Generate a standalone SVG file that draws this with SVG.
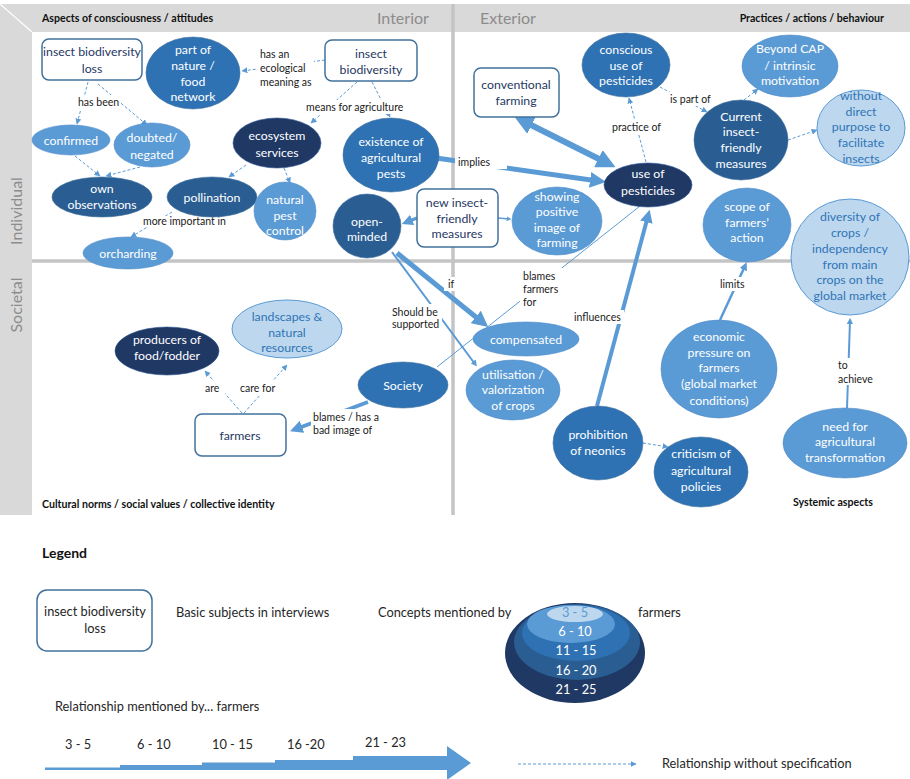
<svg xmlns="http://www.w3.org/2000/svg" width="910" height="779" viewBox="0 0 910 779">
<style>
.n13{font-family:Lato,"Liberation Sans",sans-serif;font-size:12.3px;text-anchor:middle}
.w{fill:#fff}.dk{fill:#1f3864}.lt{fill:#2e75b6}
.lb{font-family:Lato,"Liberation Sans",sans-serif;font-size:10.5px;fill:#1a1a1a}
.hd{font-family:Lato,"Liberation Sans",sans-serif;font-size:10.6px;font-weight:bold;fill:#111}
.qd{font-family:Lato,"Liberation Sans",sans-serif;font-size:16px;fill:#8c8c8c}
.lg{font-family:Lato,"Liberation Sans",sans-serif;font-size:12.8px;fill:#262626}
.c1{fill:#203864;stroke:#2f5597;stroke-width:0.6}
.c2{fill:#2a5e93;stroke:#41719c;stroke-width:0.6}
.c3{fill:#2e72b4;stroke:#41719c;stroke-width:0.6}
.c4{fill:#5b9bd5;stroke:#4f8cc9;stroke-width:0.6}
.c5{fill:#bdd7ee;stroke:#5b9bd5;stroke-width:1}
.bx{fill:#fff;stroke:#41719c;stroke-width:1.5}
.dl{stroke:#5b9bd5;stroke-width:1;stroke-dasharray:3 2;fill:none;marker-end:url(#ad)}
.sl{stroke:#5b9bd5;fill:none;marker-end:url(#as)}
.bg{fill:#fff}
</style>
<defs>
<marker id="ad" viewBox="0 0 10 10" refX="9" refY="5" markerWidth="6" markerHeight="6" markerUnits="userSpaceOnUse" orient="auto"><path d="M0,0 L10,5 L0,10 z" fill="#5b9bd5"/></marker>
<marker id="as" viewBox="0 0 10 10" refX="5" refY="5" markerWidth="3.2" markerHeight="3.2" orient="auto-start-reverse"><path d="M0,0 L10,5 L0,10 z" fill="#5b9bd5"/></marker>
<marker id="ab" viewBox="0 0 10 10" refX="5" refY="5" markerWidth="4.5" markerHeight="4.5" orient="auto"><path d="M0,0 L10,5 L0,10 z" fill="#5b9bd5"/></marker>
</defs>
<rect width="910" height="779" fill="#fff"/>
<g id="background">
<polygon points="0,4 910,4 910,32 32,32" fill="#d9d9d9"/>
<polygon points="0,4 32,32 32,515 0,515" fill="#d9d9d9"/>
<line x1="0" y1="4" x2="32" y2="32" stroke="#fff" stroke-width="1.2"/>
<line x1="453" y1="4" x2="453" y2="515" stroke="#c4c4c4" stroke-width="3.5"/>
<line x1="32" y1="261" x2="910" y2="261" stroke="#c4c4c4" stroke-width="3.5"/>
<text class="hd" x="42" y="22">Aspects of consciousness / attitudes</text>
<text class="qd" x="377" y="24">Interior</text>
<text class="qd" x="480" y="24">Exterior</text>
<text class="hd" x="884" y="22" text-anchor="end">Practices / actions / behaviour</text>
<text class="qd" transform="translate(22,211) rotate(-90)" text-anchor="middle">Individual</text>
<text class="qd" transform="translate(22,305) rotate(-90)" text-anchor="middle">Societal</text>
<text class="hd" x="42" y="508">Cultural norms / social values / collective identity</text>
<text class="hd" x="793" y="506">Systemic aspects</text>
</g>
<g id="connectors">
<line class="dl" x1="325" y1="60" x2="242" y2="71"/>
<line class="dl" x1="88" y1="82" x2="77" y2="124"/>
<line class="dl" x1="98" y1="84" x2="147" y2="125"/>
<line class="dl" x1="75" y1="156" x2="100" y2="176"/>
<line class="dl" x1="140" y1="167" x2="106" y2="176"/>
<line class="dl" x1="357" y1="82" x2="311" y2="123"/>
<line class="dl" x1="372" y1="82" x2="390" y2="117"/>
<line class="dl" x1="246" y1="165" x2="229" y2="177"/>
<line class="dl" x1="284" y1="168" x2="290" y2="183"/>
<line class="dl" x1="172" y1="212" x2="131" y2="237"/>
<line class="dl" x1="646" y1="162" x2="629" y2="98"/>
<line class="dl" x1="660" y1="87" x2="707" y2="112"/>
<line class="dl" x1="744" y1="100" x2="758" y2="89"/>
<line class="dl" x1="788" y1="140" x2="817" y2="130"/>
<line class="dl" x1="643" y1="443" x2="668" y2="447"/>
<line class="dl" x1="242" y1="413" x2="205" y2="371"/>
<line class="dl" x1="244" y1="413" x2="287" y2="365"/>
<line class="sl" x1="436" y1="158" x2="598" y2="181" stroke-width="5"/>
<line class="sl" x1="523" y1="121" x2="607" y2="163" stroke-width="6" marker-start="url(#as)"/>
<line class="sl" x1="417" y1="218" x2="407" y2="222" stroke-width="3.5"/>
<line class="sl" x1="498" y1="218" x2="509" y2="219" stroke-width="1.5" marker-end="url(#ab)"/>
<line class="sl" x1="397" y1="253" x2="482" y2="322" stroke-width="5"/>
<line class="sl" x1="392" y1="252" x2="475" y2="364" stroke-width="2" marker-end="url(#ab)"/>
<line x1="437" y1="367" x2="640" y2="206" stroke="#5b9bd5" stroke-width="1"/>
<line class="sl" x1="597" y1="406" x2="648" y2="216" stroke-width="4"/>
<line class="sl" x1="720" y1="320" x2="745" y2="266" stroke-width="2.5"/>
<line class="sl" x1="847" y1="408" x2="850" y2="321" stroke-width="2"/>
<line class="sl" x1="368" y1="402" x2="296" y2="429" stroke-width="4"/>
<rect class="bg" x="257" y="47" width="57" height="41"/>
<text class="lb" x="260" y="58">has an</text>
<text class="lb" x="260" y="72">ecological</text>
<text class="lb" x="260" y="86">meaning as</text>
<rect class="bg" x="76" y="95" width="44" height="14"/>
<text class="lb" x="78" y="106">has been</text>
<rect class="bg" x="304" y="100" width="103" height="14"/>
<text class="lb" x="306" y="111">means for agriculture</text>
<rect class="bg" x="143" y="216" width="89" height="11"/>
<text class="lb" x="143" y="225">more important in</text>
<rect class="bg" x="455" y="155" width="52" height="14"/>
<text class="lb" x="458" y="166">implies</text>
<rect class="bg" x="610" y="120" width="54" height="14"/>
<text class="lb" x="612" y="131">practice of</text>
<rect class="bg" x="668" y="92" width="46" height="14"/>
<text class="lb" x="670" y="103">is part of</text>
<rect class="bg" x="444" y="277" width="14" height="14"/>
<text class="lb" x="448" y="288">if</text>
<rect class="bg" x="390" y="304" width="52" height="27"/>
<text class="lb" x="392" y="316">Should be</text>
<text class="lb" x="392" y="328">supported</text>
<rect class="bg" x="520" y="268" width="42" height="40"/>
<text class="lb" x="523" y="280">blames</text>
<text class="lb" x="523" y="293">farmers</text>
<text class="lb" x="523" y="306">for</text>
<rect class="bg" x="572" y="310" width="52" height="14"/>
<text class="lb" x="574" y="321">influences</text>
<rect class="bg" x="718" y="277" width="30" height="14"/>
<text class="lb" x="720" y="288">limits</text>
<rect class="bg" x="836" y="358" width="40" height="27"/>
<text class="lb" x="838" y="369">to</text>
<text class="lb" x="838" y="383">achieve</text>
<rect class="bg" x="203" y="381" width="22" height="14"/>
<text class="lb" x="205" y="392">are</text>
<rect class="bg" x="238" y="381" width="40" height="14"/>
<text class="lb" x="240" y="392">care for</text>
<rect class="bg" x="311" y="409" width="72" height="28"/>
<text class="lb" x="313" y="421">blames / has a</text>
<text class="lb" x="313" y="434">bad image of</text>
</g>
<g id="n-insect-biodiversity-loss"><rect class="bx" x="42" y="39" width="100" height="41" rx="7"/><text class="n13 dk" x="92" y="56">insect biodiversity</text><text class="n13 dk" x="92" y="73">loss</text></g>
<g id="n-part-of-nature"><ellipse class="c3" cx="193" cy="73" rx="47" ry="36"/><text class="n13 w" x="193" y="54">part of</text><text class="n13 w" x="193" y="70">nature /</text><text class="n13 w" x="193" y="86">food</text><text class="n13 w" x="193" y="101">network</text></g>
<g id="n-insect-biodiversity"><rect class="bx" x="325" y="40" width="92" height="41" rx="7"/><text class="n13 dk" x="371" y="58">insect</text><text class="n13 dk" x="371" y="74">biodiversity</text></g>
<g id="n-confirmed"><ellipse class="c4" cx="71" cy="140" rx="39" ry="15"/><text class="n13 w" x="71" y="144.5">confirmed</text></g>
<g id="n-doubted"><ellipse class="c4" cx="152" cy="145" rx="38" ry="22"/><text class="n13 w" x="152" y="142">doubted/</text><text class="n13 w" x="152" y="159">negated</text></g>
<g id="n-own-observations"><ellipse class="c2" cx="102" cy="197" rx="50" ry="20"/><text class="n13 w" x="102" y="193">own</text><text class="n13 w" x="102" y="209">observations</text></g>
<g id="n-ecosystem-services"><ellipse class="c1" cx="277" cy="143" rx="44" ry="25"/><text class="n13 w" x="277" y="140">ecosystem</text><text class="n13 w" x="277" y="157">services</text></g>
<g id="n-existence-pests"><ellipse class="c3" cx="391" cy="155" rx="48" ry="37"/><text class="n13 w" x="391" y="146">existence of</text><text class="n13 w" x="391" y="162">agricultural</text><text class="n13 w" x="391" y="178">pests</text></g>
<g id="n-pollination"><ellipse class="c2" cx="212" cy="197" rx="45" ry="20"/><text class="n13 w" x="212" y="201.5">pollination</text></g>
<g id="n-natural-pest-control"><ellipse class="c4" cx="285" cy="211" rx="31" ry="29"/><text class="n13 w" x="285" y="204">natural</text><text class="n13 w" x="285" y="220">pest</text><text class="n13 w" x="285" y="235">control</text></g>
<g id="n-orcharding"><ellipse class="c4" cx="128" cy="253" rx="45" ry="16"/><text class="n13 w" x="128" y="257.5">orcharding</text></g>
<g id="n-open-minded"><ellipse class="c2" cx="367" cy="226" rx="34" ry="32"/><text class="n13 w" x="367" y="226">open-</text><text class="n13 w" x="367" y="241">minded</text></g>
<g id="n-new-measures"><rect class="bx" x="417" y="189" width="81" height="58" rx="7"/><text class="n13 dk" x="457" y="207">new insect-</text><text class="n13 dk" x="457" y="223">friendly</text><text class="n13 dk" x="457" y="238">measures</text></g>
<g id="n-showing-image"><ellipse class="c4" cx="557" cy="221" rx="45" ry="34"/><text class="n13 w" x="557" y="201">showing</text><text class="n13 w" x="557" y="216">positive</text><text class="n13 w" x="557" y="232">image of</text><text class="n13 w" x="557" y="247">farming</text></g>
<g id="n-conventional-farming"><rect class="bx" x="474" y="68" width="85" height="49" rx="7"/><text class="n13 dk" x="516" y="89">conventional</text><text class="n13 dk" x="516" y="105">farming</text></g>
<g id="n-conscious-use"><ellipse class="c3" cx="626" cy="65" rx="44" ry="32"/><text class="n13 w" x="626" y="54">conscious</text><text class="n13 w" x="626" y="70">use of</text><text class="n13 w" x="626" y="85">pesticides</text></g>
<g id="n-beyond-cap"><ellipse class="c4" cx="790" cy="66" rx="48" ry="31"/><text class="n13 w" x="790" y="53">Beyond CAP</text><text class="n13 w" x="790" y="70">/ intrinsic</text><text class="n13 w" x="790" y="85">motivation</text></g>
<g id="n-current-measures"><ellipse class="c2" cx="741" cy="140" rx="47" ry="40"/><text class="n13 w" x="741" y="121">Current</text><text class="n13 w" x="741" y="136">insect-</text><text class="n13 w" x="741" y="152">friendly</text><text class="n13 w" x="741" y="168">measures</text></g>
<g id="n-without-purpose"><ellipse class="c5" cx="861" cy="128" rx="44" ry="38"/><text class="n13 lt" x="861" y="100">without</text><text class="n13 lt" x="861" y="116">direct</text><text class="n13 lt" x="861" y="131">purpose to</text><text class="n13 lt" x="861" y="147">facilitate</text><text class="n13 lt" x="861" y="163">insects</text></g>
<g id="n-use-of-pesticides"><ellipse class="c1" cx="648" cy="185" rx="44" ry="22"/><text class="n13 w" x="648" y="178">use of</text><text class="n13 w" x="648" y="195">pesticides</text></g>
<g id="n-scope"><ellipse class="c4" cx="747" cy="225" rx="44" ry="37"/><text class="n13 w" x="747" y="211">scope of</text><text class="n13 w" x="747" y="227">farmers’</text><text class="n13 w" x="747" y="242">action</text></g>
<g id="n-diversity"><ellipse class="c5" cx="850" cy="257" rx="59" ry="58"/><text class="n13 lt" x="850" y="221">diversity of</text><text class="n13 lt" x="850" y="237">crops /</text><text class="n13 lt" x="850" y="253">independency</text><text class="n13 lt" x="850" y="269">from main</text><text class="n13 lt" x="850" y="284">crops on  the</text><text class="n13 lt" x="850" y="300">global market</text></g>
<g id="n-compensated"><ellipse class="c4" cx="526" cy="339" rx="53" ry="17"/><text class="n13 w" x="526" y="344">compensated</text></g>
<g id="n-utilisation"><ellipse class="c4" cx="513" cy="390" rx="47" ry="30"/><text class="n13 w" x="513" y="379">utilisation /</text><text class="n13 w" x="513" y="394">valorization</text><text class="n13 w" x="513" y="410">of crops</text></g>
<g id="n-prohibition"><ellipse class="c3" cx="598" cy="443" rx="45" ry="37"/><text class="n13 w" x="598" y="439">prohibition</text><text class="n13 w" x="598" y="455">of neonics</text></g>
<g id="n-criticism"><ellipse class="c3" cx="701" cy="472" rx="47" ry="35"/><text class="n13 w" x="701" y="458">criticism of</text><text class="n13 w" x="701" y="475">agricultural</text><text class="n13 w" x="701" y="491">policies</text></g>
<g id="n-economic-pressure"><ellipse class="c4" cx="719" cy="369" rx="58" ry="49"/><text class="n13 w" x="719" y="341">economic</text><text class="n13 w" x="719" y="357">pressure on</text><text class="n13 w" x="719" y="372">farmers</text><text class="n13 w" x="719" y="388">(global market</text><text class="n13 w" x="719" y="405">conditions)</text></g>
<g id="n-need-transformation"><ellipse class="c4" cx="845" cy="443" rx="62" ry="35"/><text class="n13 w" x="845" y="431">need for</text><text class="n13 w" x="845" y="446">agricultural</text><text class="n13 w" x="845" y="462">transformation</text></g>
<g id="n-society"><ellipse class="c3" cx="403" cy="385" rx="45" ry="23"/><text class="n13 w" x="403" y="389.5">Society</text></g>
<g id="n-producers"><ellipse class="c1" cx="167" cy="351" rx="52" ry="24"/><text class="n13 w" x="167" y="344">producers of</text><text class="n13 w" x="167" y="360">food/fodder</text></g>
<g id="n-landscapes"><ellipse class="c5" cx="287" cy="329" rx="55" ry="29"/><text class="n13 lt" x="287" y="321">landscapes &amp;</text><text class="n13 lt" x="287" y="337">natural</text><text class="n13 lt" x="287" y="352">resources</text></g>
<g id="n-farmers"><rect class="bx" x="195" y="414" width="91" height="42" rx="7"/><text class="n13 dk" x="240" y="440">farmers</text></g>
<g id="legend">
<text x="42" y="558" font-family="Lato,'Liberation Sans',sans-serif" font-size="14" font-weight="bold" fill="#111">Legend</text>
<rect class="bx" x="37" y="590" width="115" height="61" rx="10"/>
<text class="lg" x="95" y="616" text-anchor="middle">insect biodiversity</text>
<text class="lg" x="95" y="633" text-anchor="middle">loss</text>
<text class="lg" x="176" y="617">Basic subjects in interviews</text>
<text class="lg" x="378" y="617">Concepts mentioned  by</text>
<text class="lg" x="638" y="617">farmers</text>
<ellipse cx="575" cy="653" rx="70" ry="50" fill="#203864"/>
<ellipse cx="577" cy="642" rx="63" ry="38" fill="#2a5e93"/>
<ellipse cx="576" cy="633" rx="54" ry="28" fill="#2e72b4"/>
<ellipse cx="571" cy="624" rx="44" ry="19" fill="#5b9bd5"/>
<ellipse cx="575" cy="614" rx="28" ry="8" fill="#bdd7ee"/>
<text class="lg" x="575" y="617" text-anchor="middle" style="fill:#5b9bd5">3 - 5</text>
<text class="lg" x="575" y="636" text-anchor="middle" style="fill:#fff">6 - 10</text>
<text class="lg" x="576" y="655" text-anchor="middle" style="fill:#fff">11 - 15</text>
<text class="lg" x="576" y="675" text-anchor="middle" style="fill:#fff">16 - 20</text>
<text class="lg" x="576" y="694" text-anchor="middle" style="fill:#fff">21 - 25</text>
<text class="lg" x="55" y="711">Relationship mentioned by... farmers</text>
<text class="lg" x="65" y="749">3 - 5</text>
<text class="lg" x="137" y="749">6 - 10</text>
<text class="lg" x="212" y="749">10 - 15</text>
<text class="lg" x="287" y="749">16 -20</text>
<text class="lg" x="365" y="747">21 - 23</text>
<polygon points="45,767.5 120,767.5 120,765 202,765 202,762.5 275,762.5 275,760 353,760 353,756 447,756 447,746 471,763 447,780 447,770 45,770" fill="#5b9bd5"/>
<line x1="518" y1="764" x2="636" y2="764" stroke="#5b9bd5" stroke-width="1" stroke-dasharray="3 2" marker-end="url(#ad)"/>
<text class="lg" x="662" y="768">Relationship without specification</text>
</g>
</svg>
